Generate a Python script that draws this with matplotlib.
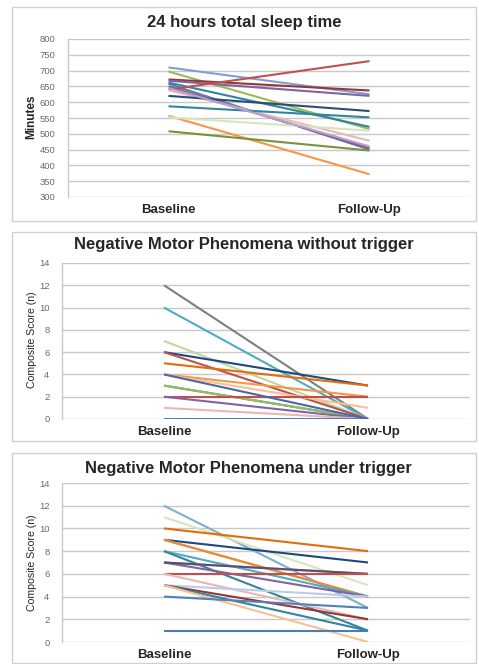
import matplotlib
matplotlib.use("Agg")
import matplotlib.pyplot as plt
from matplotlib.patches import Rectangle

plt.rcParams['font.family'] = ['Liberation Sans', 'DejaVu Sans']

categories = ["Baseline", "Follow-Up"]

# 24 h total sleep time (minutes): baseline, follow-up, colour
sleep_baseline = [710, 697, 672, 668, 662, 658, 640, 650, 638, 620, 587, 557, 552, 508, 645]
sleep_followup = [625, 515, 637, 620, 522, 450, 730, 455, 478, 572, 552, 372, 510, 447, 460]
sleep_colors = ["#7F9FD3", "#9BBB59", "#953735", "#8064A2", "#31859C", "#4F81BD", "#C0504D",
                "#A0527E", "#E6B9B8", "#2C4D75", "#31859C", "#F79646", "#D7E4BD", "#77933C", "#B3A2C7"]

# Negative motor phenomena without trigger (composite score)
nt_baseline = [12, 10, 7, 6, 6, 5, 4, 4, 3, 3, 2, 2, 1, 0, 4]
nt_followup = [0, 0, 0, 3, 0, 3, 2, 1, 0, 0, 2, 0, 0, 0, 0]
nt_colors = ["#7F7F7F", "#4BACC6", "#C3D69B", "#1F497D", "#C0504D", "#E46C0A", "#F79646", "#FAC090",
             "#31859C", "#9BBB59", "#C0504D", "#8064A2", "#E6B9B8", "#4F81BD", "#4A66AC"]

# Negative motor phenomena under trigger (composite score)
ut_baseline = [12, 11, 10, 9, 9, 9, 8, 8, 7, 7, 7, 6, 6, 5, 5, 5, 5, 4, 1]
ut_followup = [3, 5, 8, 7, 4, 4, 4, 1, 6, 4, 6, 6, 2, 4, 2, 1, 0, 3, 1]
ut_colors = ["#7EB0C8", "#D7E4BD", "#E46C0A", "#1F497D", "#F79646", "#E68A3C", "#4BACC6", "#31859C",
             "#9BBB59", "#8064A2", "#5F497A", "#C0504D", "#E6B9B8", "#B9CDE5", "#953735", "#31859C",
             "#FAC090", "#4F81BD", "#4A7EBB"]

W, H = 479, 664
fig = plt.figure(figsize=(W / 100, H / 100), dpi=100)


def px_axes(left, top, right, bottom):
    return fig.add_axes([left / W, 1 - bottom / H, (right - left) / W, (bottom - top) / H])


def frame(top, bottom):
    fig.patches.append(Rectangle((12 / W, 1 - bottom / H), (476 - 12) / W, (bottom - top) / H,
                                 transform=fig.transFigure, fill=False, ec="#D0D0D0", lw=1.0))


def panel(box, rect, base, follow, colors, yticks, title, title_xy, ylabel, ylabel_xy,
          ylabel_kw, xlab_y):
    frame(*box)
    ax = px_axes(*rect)
    for b, f, c in zip(base, follow, colors):
        ax.plot([0.5, 1.5], [b, f], color=c, lw=1.5, solid_capstyle="butt")
    ax.set_xlim(0, 2)
    ax.set_ylim(yticks[0], yticks[-1])
    ax.set_yticks(yticks)
    ax.set_yticklabels([str(t) for t in yticks], fontsize=6.8, color="#6A6A6A")
    ax.tick_params(axis="y", length=0, pad=9)
    ax.set_xticks([])
    ax.grid(axis="y", color="#C8C8C8", lw=1.0)
    ax.set_axisbelow(True)
    for s in ["top", "right", "bottom"]:
        ax.spines[s].set_visible(False)
    ax.spines["left"].set_color("#C8C8C8")
    ax.spines["left"].set_linewidth(1.0)
    fig.text(title_xy[0] / W, 1 - title_xy[1] / H, title, ha="center", va="center",
             fontsize=12, fontweight="bold", color="#262626")
    fig.text(ylabel_xy[0] / W, 1 - ylabel_xy[1] / H, ylabel, ha="center", va="center",
             rotation=90, color="#262626", **ylabel_kw)
    left, top, right, bottom = rect
    for frac, lab in zip([0.25, 0.75], categories):
        fig.text((left + frac * (right - left)) / W, 1 - xlab_y / H, lab, ha="center",
                 va="center", fontsize=9.5, fontweight="bold", color="#262626")
    return ax


panel((7, 221), (68, 39, 470, 197), sleep_baseline, sleep_followup, sleep_colors,
      list(range(300, 801, 50)), "24 hours total sleep time", (244, 22),
      "Minutes", (31, 117), dict(fontsize=8.5, fontweight="bold", fontstretch="condensed"), 210)

panel((232, 441), (62, 263, 470, 419), nt_baseline, nt_followup, nt_colors,
      list(range(0, 15, 2)), "Negative Motor Phenomena without trigger", (244, 245),
      "Composite Score (n)", (32, 340), dict(fontsize=7.6), 432)

panel((453, 663), (62, 483, 470, 642), ut_baseline, ut_followup, ut_colors,
      list(range(0, 15, 2)), "Negative Motor Phenomena under trigger", (248, 468),
      "Composite Score (n)", (32, 563), dict(fontsize=7.6), 655)

fig.savefig("out.png", dpi=100)
